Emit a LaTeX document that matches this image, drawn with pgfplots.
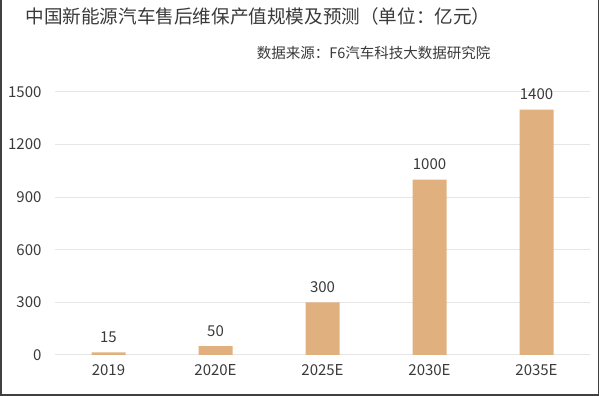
\documentclass[border=0pt]{standalone}
\usepackage{pgfplots}
\pgfplotsset{compat=1.18}
\usepackage{fontspec}
\setmainfont{Noto Sans CJK SC}
\definecolor{barc}{HTML}{E0B07E}
\definecolor{gridc}{HTML}{E6E6E6}
\definecolor{txt}{HTML}{3A3A3A}
\begin{document}
\begin{tikzpicture}[x=1pt,y=1pt]
\useasboundingbox (0,0) rectangle (600,396);
\draw[line width=1.5pt, color=black!75] (0.75,0.75) rectangle (598.5,400);
\node[anchor=east, text=txt, font=\fontsize{18.6}{21}\selectfont] at (494,380) {中国新能源汽车售后维保产值规模及预测（单位：亿元）};
\node[anchor=east, text=txt, font=\fontsize{14.5}{16}\selectfont] at (494,343) {数据来源：F6汽车科技大数据研究院};
\begin{axis}[
  at={(55pt,41pt)}, anchor=south west,
  scale only axis, width=535pt, height=263pt,
  xmin=-0.5, xmax=4.5, ymin=0, ymax=1500,
  axis line style={draw=none},
  ytick={0,300,600,900,1200,1500},
  xtick=data,
  xticklabels={2019,2020E,2025E,2030E,2035E},
  ymajorgrids, grid style={draw=gridc, line width=1pt},
  major tick length=0pt,
  tick label style={text=txt, font=\fontsize{15}{17}\selectfont},
  /pgf/number format/assume math mode=true,
  /pgf/number format/1000 sep={},
  yticklabel style={xshift=-10pt},
  xticklabel style={yshift=-6pt},
  nodes near coords,
  every node near coord/.append style={text=txt, font=\fontsize{15}{17}\selectfont, yshift=6pt},
]
\addplot[ybar, bar width=34pt, fill=barc, draw=none] coordinates {(0,15) (1,50) (2,300) (3,1000) (4,1400)};
\end{axis}
\end{tikzpicture}
\end{document}
